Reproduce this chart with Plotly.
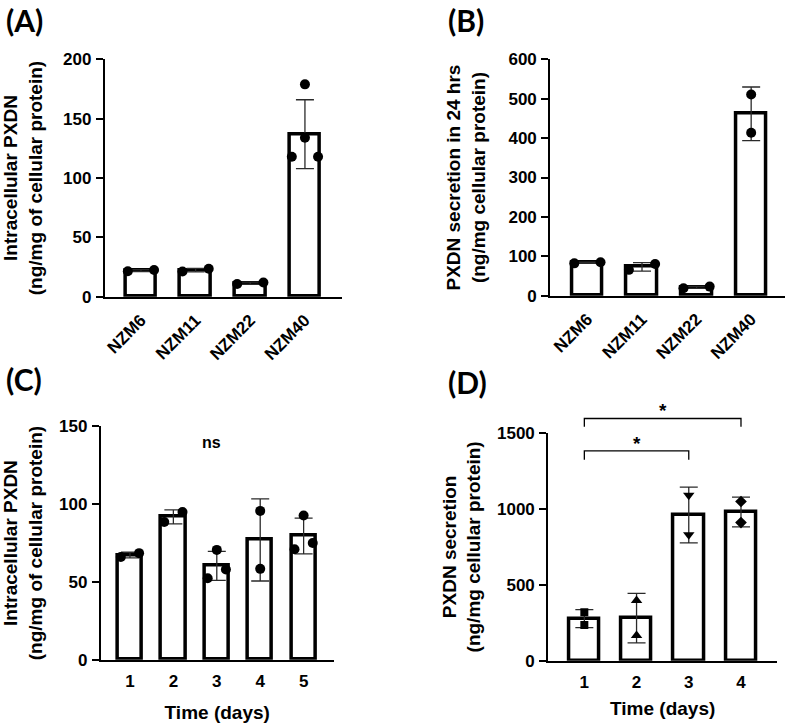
import plotly.graph_objects as go

W, H = 790, 726

# ---------------- data ----------------
cells = ["NZM6", "NZM11", "NZM22", "NZM40"]

# (A) intracellular PXDN
a_mean = [21.9, 22.3, 11.3, 137.0]
a_sd = [0.8, 1.5, 0.9, 29.0]
a_pts = [[21.4, 22.5], [21.2, 23.5], [10.7, 12.0], [179.0, 134.0, 118.0, 118.0]]
a_dx = [[-0.24, 0.24], [-0.24, 0.24], [-0.24, 0.24], [0.0, 0.0, -0.24, 0.24]]

# (B) PXDN secretion in 24 hrs
b_mean = [83.5, 73.0, 21.0, 462.0]
b_sd = [1.5, 10.8, 2.5, 68.0]
b_pts = [[82.0, 85.0], [65.5, 80.5], [19.0, 23.0], [511.0, 414.0]]
b_dx = [[-0.24, 0.24], [-0.24, 0.24], [-0.24, 0.24], [0.0, 0.0]]

# (C) intracellular PXDN over time
days_c = [1, 2, 3, 4, 5]
c_mean = [67.3, 91.8, 60.3, 77.0, 79.6]
c_sd = [1.8, 4.5, 9.3, 26.4, 11.5]
c_pts = [[66.0, 68.5], [88.6, 95.0], [70.6, 52.4, 58.0], [95.7, 58.4], [92.7, 71.0, 75.0]]
c_dx = [[-0.21, 0.21], [-0.21, 0.21], [0.0, -0.21, 0.21], [0.0, 0.0], [0.0, -0.21, 0.21]]

# (D) PXDN secretion over time
days_d = [1, 2, 3, 4]
d_mean = [277.0, 280.0, 960.0, 979.5]
d_sd = [59.4, 163.0, 184.0, 98.0]
d_pts = [[319.0, 235.0], [396.0, 165.0], [1090.0, 830.0], [1049.0, 910.0]]
d_symbols = ["square", "triangle-up", "triangle-down", "diamond"]
d_msize = [8, 10, 10, 9]
# significance brackets: (from day, to day, bar height, leg bottom, label)
d_sig = [(1, 3, 1383.0, 1324.0, "*"), (1, 4, 1596.0, 1541.0, "*")]

# ---------------- style ----------------
FONT = "Arial, Liberation Sans, sans-serif"
TICKF = dict(family=FONT, size=17, color="black", weight="bold")
TITLEF = dict(family=FONT, size=19, color="black", weight="bold")
BAR_LW = 3.5
ERR_COL = "#2a2a2a"

# vertical calibration of the page capture
VS, VOFF = 0.973, 8.6


def dom_x(px0, px1):
    return [px0 / W, px1 / W]


def py(p):
    return 1 - ((p - VOFF) / VS) / H


def dom_y(px_top, px_bot):
    return [py(px_bot), py(px_top)]


fig = go.Figure()


def add_panel(n, xs, means, sds, pts, dxs, symbols, sizes, width):
    xa = "x" if n == 1 else f"x{n}"
    ya = "y" if n == 1 else f"y{n}"
    fig.add_trace(go.Bar(
        x=xs, y=means, width=width,
        marker=dict(color="white", line=dict(color="black", width=BAR_LW)),
        error_y=dict(type="data", array=sds, visible=True, color=ERR_COL,
                     thickness=1.3, width=9),
        xaxis=xa, yaxis=ya, showlegend=False, hoverinfo="skip"))
    for i, x in enumerate(xs):
        fig.add_trace(go.Scatter(
            x=[x + d for d in dxs[i]], y=pts[i], mode="markers",
            marker=dict(color="black", size=sizes[i], symbol=symbols[i]),
            xaxis=xa, yaxis=ya, showlegend=False, cliponaxis=False,
            hoverinfo="skip"))


idx = list(range(len(cells)))
add_panel(1, idx, a_mean, a_sd, a_pts, a_dx, ["circle"] * 4, [10] * 4, 0.56)
add_panel(2, idx, b_mean, b_sd, b_pts, b_dx, ["circle"] * 4, [10] * 4, 0.56)
add_panel(3, days_c, c_mean, c_sd, c_pts, c_dx, ["circle"] * 5, [10] * 5, 0.56)
add_panel(4, days_d, d_mean, d_sd, d_pts, [[0.0] * len(p) for p in d_pts],
          d_symbols, d_msize, 0.58)

common_y = dict(showline=True, linewidth=2.2, linecolor="black", ticks="outside",
                ticklen=7, tickwidth=2, tickcolor="black", showgrid=False,
                zeroline=False, tickfont=TICKF, title_font=TITLEF, ticklabelstandoff=1)
common_x = dict(showline=True, linewidth=2.2, linecolor="black", showgrid=False,
                zeroline=False, tickfont=TICKF, title_font=TITLEF,
                ticks="outside", ticklen=5, tickcolor="rgba(0,0,0,0)")

# panel geometry (pixels)
A_dx, A_dy = dom_x(104, 341), dom_y(59, 296)
B_dx, B_dy = dom_x(550, 785), dom_y(59, 295)
C_dx, C_dy = dom_x(100, 333), dom_y(425.7, 658.7)
D_dx, D_dy = dom_x(548, 777), dom_y(432.3, 659.7)

fig.update_layout(
    width=W, height=H, margin=dict(l=0, r=0, t=0, b=0),
    paper_bgcolor="white", plot_bgcolor="white", bargap=0,
    xaxis=dict(common_x, domain=A_dx, anchor="y", range=[-0.66, 3.67],
               tickvals=idx, ticktext=cells, tickangle=-45, ticklen=5),
    yaxis=dict(common_y, domain=A_dy, anchor="x", range=[0, 200],
               tickvals=[0, 50, 100, 150, 200],
               title=dict(text="Intracellular PXDN<br>(ng/mg of cellular protein)", standoff=18)),
    xaxis2=dict(common_x, domain=B_dx, anchor="y2", range=[-0.68, 3.62],
                tickvals=idx, ticktext=cells, tickangle=-45, ticklen=5),
    yaxis2=dict(common_y, domain=B_dy, anchor="x2", range=[0, 600],
                tickvals=[0, 100, 200, 300, 400, 500, 600],
                title=dict(text="PXDN secretion in 24 hrs<br>(ng/mg cellular protein)", standoff=18)),
    xaxis3=dict(common_x, domain=C_dx, anchor="y3", range=[0.33, 5.69],
                tickvals=days_c, title=dict(text="Time (days)", standoff=16)),
    yaxis3=dict(common_y, domain=C_dy, anchor="x3", range=[0, 150],
                tickvals=[0, 50, 100, 150],
                title=dict(text="Intracellular PXDN<br>(ng/mg of cellular protein)", standoff=18)),
    xaxis4=dict(common_x, domain=D_dx, anchor="y4", range=[0.31, 4.69],
                tickvals=days_d, title=dict(text="Time (days)", standoff=11)),
    yaxis4=dict(common_y, domain=D_dy, anchor="x4", range=[0, 1500],
                tickvals=[0, 500, 1000, 1500],
                title=dict(text="PXDN secretion<br>(ng/mg cellular protein)", standoff=11)),
)

# panel labels
LABF = dict(family="Lato", size=30, color="black", weight="bold")
for txt, x, y in [("(A)", 3, 14), ("(B)", 446, 14), ("(C)", 3, 378), ("(D)", 446, 381)]:
    fig.add_annotation(text=txt, x=x / W, y=min(py(y), 0.985), xref="paper", yref="paper",
                       xanchor="left", yanchor="middle", showarrow=False, font=LABF)

# "ns" in C
fig.add_annotation(text="ns", x=0.476, y=0.977, xref="x3 domain", yref="y3 domain",
                   showarrow=False, font=dict(family=FONT, size=16, color="black", weight="bold"))


# significance brackets in D
def y4_paper(v):
    return D_dy[0] + v / 1500.0 * (D_dy[1] - D_dy[0])


for x0, x1, ytop, ybot, lab in d_sig:
    fig.add_shape(type="path", xref="x4", yref="paper",
                  path=f"M {x0},{y4_paper(ybot)} L {x0},{y4_paper(ytop)} L {x1},{y4_paper(ytop)} L {x1},{y4_paper(ybot)}",
                  line=dict(color="black", width=1.3))
    fig.add_annotation(text=lab, x=(x0 + x1) / 2, y=y4_paper(ytop), xref="x4", yref="paper",
                       yanchor="bottom", yshift=-5, showarrow=False,
                       font=dict(family=FONT, size=19, color="black", weight="bold"))

POST = ("document.documentElement.style.margin='0';"
        "document.body.style.margin='0';document.body.style.overflow='hidden';"
        "var d=document.getElementById('{plot_id}');"
        "d.style.position='fixed';d.style.top='0px';d.style.left='0px';")

fig.write_html("out.html", config={"displayModeBar": False}, post_script=POST)
